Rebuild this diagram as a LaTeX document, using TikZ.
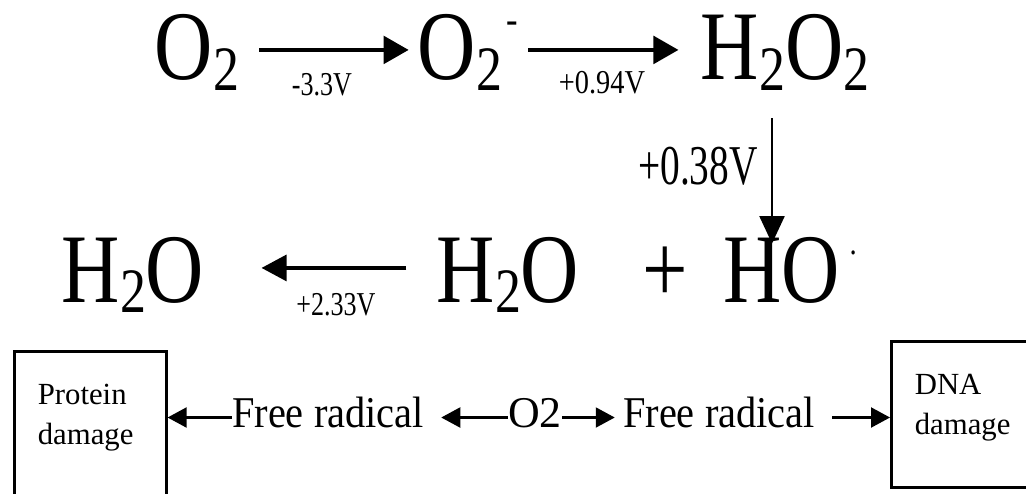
\documentclass[tikz,border=0pt]{standalone}
\usepackage{fontspec}
\setmainfont{Liberation Serif}
\usepackage{graphicx}
\usetikzlibrary{positioning,arrows.meta}
\newcommand{\squeeze}[2][0.82]{\scalebox{#1}[1]{#2}}
\newcommand{\chsub}[1]{\raisebox{-5.7pt}{\fontsize{36}{36}\selectfont #1}}

\tikzset{
  chem/.style={font=\fontsize{56}{56}\selectfont, inner sep=0pt, anchor=base},
  volt/.style={font=\fontsize{19}{19}\selectfont, inner sep=0pt},
  flow/.style={font=\fontsize{25}{25}\selectfont, inner sep=0pt, anchor=base, text height=0.62cm, text depth=0.24cm},
  damagebox/.style={draw, line width=1.5pt, anchor=north west, align=left, inner xsep=0.47cm, inner ysep=0.66cm, font=\fontsize{17.5}{22.7}\selectfont},
  redox/.style={line width=2.2pt, -{Triangle[length=0.5cm,width=0.55cm]}},
  redoxdown/.style={line width=1.4pt, -{Triangle[length=0.55cm,width=0.5cm]}},
  redoxleft/.style={line width=1.8pt, -{Triangle[length=0.5cm,width=0.52cm]}},
  link/.style={line width=1.2pt, -{Triangle[length=0.38cm,width=0.4cm]}}
}

\begin{document}
\begin{tikzpicture}[x=0.02cm, y=-0.02cm]
    \useasboundingbox (0,0) rectangle (1026,493);
    \clip (0,0) rectangle (1026,493);

    % First row: O2 -> O2- -> H2O2
    \node[chem] (o2) at (197,80) {\squeeze{O\chsub{2}}};
    \node[chem] (superoxide) at (468,80) {\squeeze{O\chsub{2}\hspace{3pt}\raisebox{26.5pt}{\fontsize{24}{24}\selectfont -}}};
    \node[chem] (peroxide) at (785,80) {\squeeze{H\chsub{2}O\chsub{2}}};

    % Second row: H2O <- H2O + HO.
    \node[chem] (water) at (133,302) {\squeeze{H\chsub{2}O}};
    \node[chem] (waterb) at (508,302) {\squeeze{H\chsub{2}O}};
    \node[chem] (plus) at (665,302) {\squeeze{+}};
    \node[chem] (hydroxyl) at (790,302) {\squeeze{HO\hspace{7pt}\raisebox{27pt}{\fontsize{20}{20}\selectfont .}}};

    % Potentials
    \node[volt] (v1) at (322,85) {\squeeze[0.78]{-3.3V}};
    \node[volt] (v2) at (602,83) {\squeeze[0.85]{+0.94V}};
    \node[volt, font=\fontsize{32}{32}\selectfont] (v3) at (698,166) {\squeeze[0.7]{+0.38V}};
    \node[volt] (v4) at (336,305) {\squeeze[0.78]{+2.33V}};

    % Reaction arrows
    \draw[redox, shorten <=0.4cm, shorten >=0.18cm] ([yshift=0.05cm]o2.east) -- ([yshift=0.05cm]superoxide.west);
    \draw[redox, shorten <=0.2cm, shorten >=0.44cm] ([yshift=0.05cm]superoxide.east) -- ([yshift=0.05cm]peroxide.west);
    \draw[redoxdown, shorten <=0.56cm, shorten >=-0.14cm] ([xshift=-0.26cm]peroxide.south) -- ([xshift=-0.26cm]peroxide.south |- hydroxyl.north);
    \draw[redoxleft, shorten <=0.6cm, shorten >=1.14cm] ([yshift=0.13cm]waterb.west) -- ([yshift=0.13cm]water.east);

    % Third row: damage
    \node[damagebox, text width=2.1cm, text depth=2.5cm] (protein) at (13,350) {Protein\\damage};
    \node[damagebox, text width=3cm, text depth=1.2cm] (dna) at (890,340) {DNA\\damage};
    \node[flow] (frl) at (328,427) {\squeeze[0.92]{Free radical}};
    \node[flow] (oxy) at (535,427) {O2};
    \node[flow] (frr) at (719,427) {\squeeze[0.92]{Free radical}};

    \draw[link] (frl.west) -- (frl.west -| protein.east);
    \draw[link, shorten >=0.34cm] (oxy.west) -- (frl.east);
    \draw[link, shorten >=0.16cm] (oxy.east) -- (frr.west);
    \draw[link, shorten <=0.34cm] (frr.east) -- (frr.east -| dna.west);
\end{tikzpicture}
\end{document}
